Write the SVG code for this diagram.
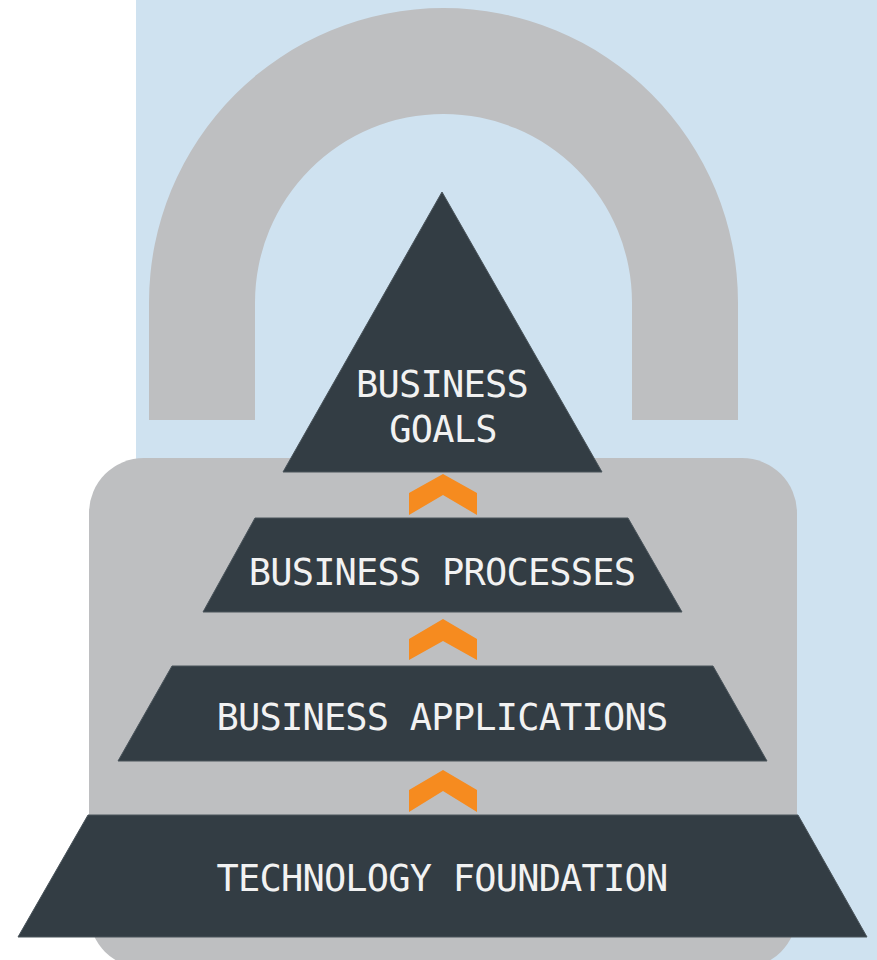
<svg xmlns="http://www.w3.org/2000/svg" width="877" height="960" viewBox="0 0 877 960">
  <style>
    .lock { fill: #bebfc1; }
    .tier { fill: #333d44; stroke: #4a545b; stroke-width: 1; }
    .chev { fill: #f68b1f; }
    .lbl { font-family: "DejaVu Sans Mono", "Liberation Mono", monospace; font-size: 37px; fill: #f2f2f2; text-anchor: middle; letter-spacing: -0.8px; }
  </style>
  <rect x="0" y="0" width="877" height="960" fill="#ffffff"/>
  <rect id="background" x="136" y="0" width="741" height="960" fill="#cfe2f0"/>
  <g id="padlock">
    <path class="lock" d="M149,420 L149,302.5 A294.5,294.5 0 0 1 738,302.5 L738,420 L632,420 L632,302.5 A188.5,188.5 0 0 0 255,302.5 L255,420 Z"/>
    <rect class="lock" x="89" y="458" width="708" height="510" rx="55" ry="55"/>
  </g>
  <g id="business-goals">
    <polygon class="tier" points="442,192 602,472 283,472"/>
    <text class="lbl" x="442" y="397">BUSINESS</text>
    <text class="lbl" x="443" y="442">GOALS</text>
  </g>
  <g id="business-processes">
    <polygon class="tier" points="255,518 628,518 682,612 203,612"/>
    <text class="lbl" x="442" y="585">BUSINESS PROCESSES</text>
  </g>
  <g id="business-applications">
    <polygon class="tier" points="172,666 713,666 767,761 118,761"/>
    <text class="lbl" x="442" y="730">BUSINESS APPLICATIONS</text>
  </g>
  <g id="technology-foundation">
    <polygon class="tier" points="88,815 798,815 867,937 18,937"/>
    <text class="lbl" x="442" y="891">TECHNOLOGY FOUNDATION</text>
  </g>
  <g id="connectors">
    <polygon class="chev" points="409,493 443,474 477,493 477,515 443,495 409,515"/>
    <polygon class="chev" points="409,639 443,619 477,639 477,660 443,641 409,660"/>
    <polygon class="chev" points="409,790 443,770 477,790 477,812 443,791 409,812"/>
  </g>
</svg>
